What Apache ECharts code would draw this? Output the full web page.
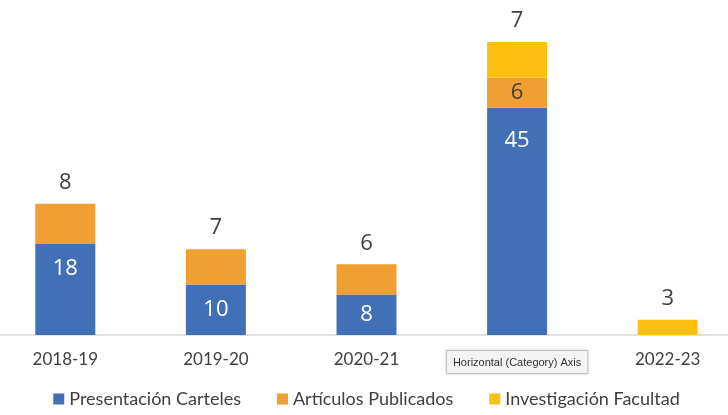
<!DOCTYPE html>
<html>
<head>
<meta charset="utf-8">
<script src="https://cdn.jsdelivr.net/npm/echarts@6/dist/echarts.min.js"></script>
<style>
  html, body { margin: 0; padding: 0; background: #fff; overflow: hidden; }
  #chart { width: 753px; height: 415px; margin-left: -10px; }
</style>
</head>
<body>
<div id="chart"></div>
<script>
const categories = ["2018-19", "2019-20", "2020-21", "2021-22", "2022-23"];
const carteles = [18, 10, 8, 45, null];
const articulos = [8, 7, 6, 6, null];
const investigacion = [null, null, null, 7, 3];

const chart = echarts.init(document.getElementById("chart"));

const numFont = "Open Sans";
const textFont = "Lato";

// tall blue segments carry their label near the top, short ones centred
const cartelesData = carteles.map((v) => ({
  value: v,
  label: v != null && v >= 15
    ? { position: "insideTop", distance: v > 30 ? 22 : 14 }
    : { position: "inside" },
}));

// the orange label sits on top when nothing is stacked above it
const articulosData = articulos.map((v, i) => ({
  value: v,
  label: investigacion[i] == null
    ? { position: "top", color: "#404040", distance: 10 }
    : { position: "inside", color: "#404040" },
}));

const option = {
  backgroundColor: "#fff",
  grid: { left: 0, right: 0, top: 32, bottom: 80 },
  legend: {
    bottom: 2,
    left: "center",
    itemWidth: 11,
    itemHeight: 11,
    itemGap: 36,
    icon: "rect",
    textStyle: { fontFamily: textFont, fontSize: 18, color: "#404040" },
    data: ["Presentación Carteles", "Artículos Publicados", "Investigación Facultad"],
  },
  xAxis: {
    type: "category",
    data: categories,
    axisLine: { lineStyle: { color: "#d9d9d9", width: 1.5 } },
    axisTick: { show: false },
    axisLabel: {
      interval: 0,
      margin: 16,
      fontFamily: textFont,
      fontSize: 17,
      color: "#404040",
      formatter: (v, i) => (i === 3 ? "{tip|Horizontal (Category) Axis}" : v),
      rich: {
        tip: {
          fontFamily: "Liberation Sans",
          fontSize: 11,
          color: "#333",
          backgroundColor: "#f4f4f4",
          borderColor: "#c8c8c8",
          borderWidth: 1,
          padding: [6, 6, 5, 6],
          shadowColor: "rgba(0,0,0,0.15)",
          shadowBlur: 3,
        },
      },
    },
  },
  yAxis: {
    type: "value",
    min: 0,
    max: 60,
    show: false,
    splitLine: { show: false },
  },
  series: [
    {
      name: "Presentación Carteles",
      type: "bar",
      stack: "total",
      barWidth: 60,
      itemStyle: { color: "#4270b6" },
      label: {
        show: true,
        color: "#fff",
        fontFamily: numFont,
        fontSize: 22,
      },
      data: cartelesData,
    },
    {
      name: "Artículos Publicados",
      type: "bar",
      stack: "total",
      itemStyle: { color: "#f0a032" },
      label: {
        show: true,
        fontFamily: numFont,
        fontSize: 22,
      },
      data: articulosData,
    },
    {
      name: "Investigación Facultad",
      type: "bar",
      stack: "total",
      itemStyle: { color: "#fdc010" },
      label: {
        show: true,
        position: "top",
        distance: 10,
        color: "#404040",
        fontFamily: numFont,
        fontSize: 22,
      },
      data: investigacion,
    },
  ],
};

chart.setOption(option);
</script>
</body>
</html>
